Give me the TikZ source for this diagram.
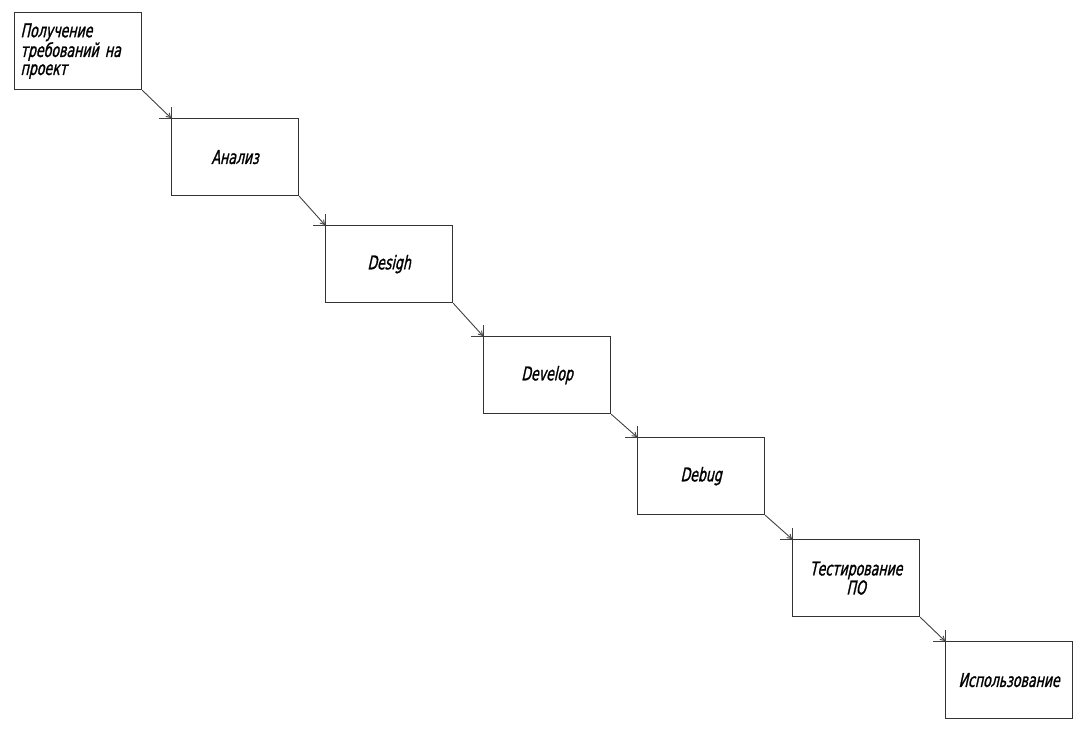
\documentclass[tikz,border=0pt]{standalone}
\usepackage{fontspec}
\newfontfamily\gost{DejaVu Sans}[FakeStretch=0.66, FakeSlant=0.22, FakeBold=1.2]
\usetikzlibrary{arrows.meta}
\begin{document}
\begin{tikzpicture}[x=1pt,y=-1pt,
  stage/.style={draw=black!80, line width=1.2pt, rectangle, anchor=north west,
    minimum width=127pt, minimum height=77pt, inner sep=0pt,
    font=\gost\fontsize{19}{18}\selectfont, align=center},
  link/.style={draw=black!75, line width=0.9pt, -{Straight Barb[length=4pt,width=5pt]}},
  tick/.style={draw=black!75, line width=0.9pt}]
\useasboundingbox (0,0) rectangle (1087,733);
\node[stage, text width=115pt, align=left, inner xsep=6pt] (b1) at (14,12) {Получение\\требований на\\проект};
\node[stage] (b2) at (171,118) {Анализ};
\node[stage] (b3) at (325,225) {Desigh};
\node[stage] (b4) at (483,336) {Develop};
\node[stage] (b5) at (637,437) {Debug};
\node[stage, font=\gost\fontsize{19}{15}\selectfont] (b6) at (792,539) {Тестирование\\ПО};
\node[stage] (b7) at (945,641) {Использование};
\foreach \a/\b in {b1/b2,b2/b3,b3/b4,b4/b5,b5/b6,b6/b7}{
  \draw[link] (\a.south east) -- (\b.north west);
  \draw[tick] (\b.north west) -- ++(-12,0);
  \draw[tick] (\b.north west) -- ++(0,-11);
}
\end{tikzpicture}
\end{document}
